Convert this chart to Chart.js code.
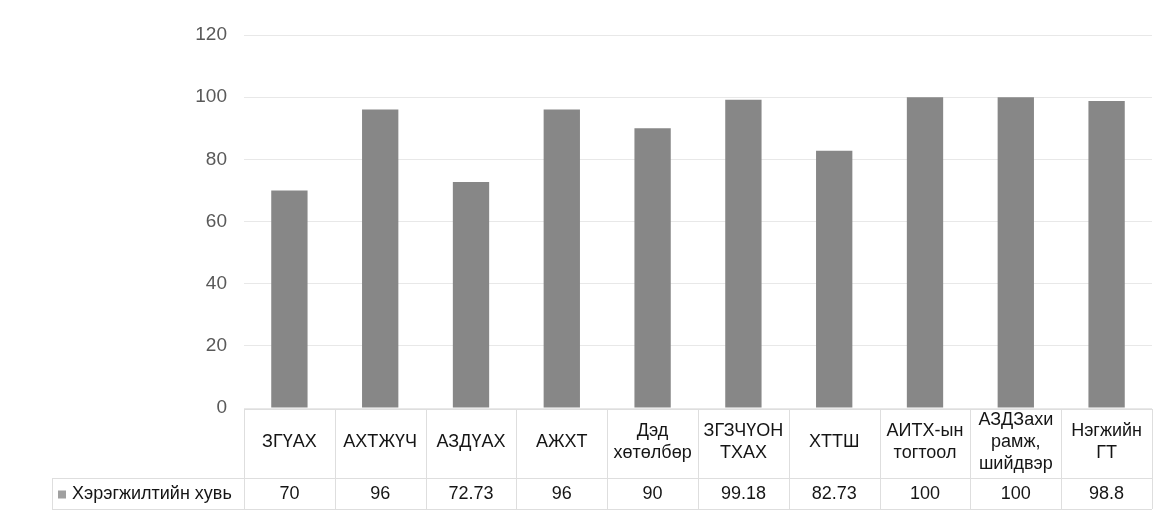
<!DOCTYPE html>
<html>
<head>
<meta charset="utf-8">
<script src="https://cdn.jsdelivr.net/npm/chart.js@4"></script>
<style>
  html, body { margin: 0; padding: 0; background: #fff; }
  #wrap { width: 1165px; height: 518px; }
</style>
</head>
<body>
<div id="wrap"><canvas id="chartCanvas" width="1165" height="518"></canvas></div>
<script>
// Data
const categories = [
  'ЗГҮАХ', 'АХТЖҮЧ', 'АЗДҮАХ', 'АЖХТ',
  ['Дэд', 'хөтөлбөр'], ['ЗГЗЧҮОН', 'ТХАХ'], 'ХТТШ',
  ['АИТХ-ын', 'тогтоол'], ['АЗДЗахи', 'рамж,', 'шийдвэр'], ['Нэгжийн', 'ГТ']
];
const values = [70, 96, 72.73, 96, 90, 99.18, 82.73, 100, 100, 98.8];
const seriesName = 'Хэрэгжилтийн хувь';
const yTicks = [0, 20, 40, 60, 80, 100, 120];

const FONT = '"Liberation Sans", Arial, sans-serif';
const barColor = '#878787';
const lineColor = '#dedede';

// Draws the data table under the plot (grid lines, legend key, values)
const dataTable = {
  id: 'dataTable',
  afterDraw(chart) {
    const { ctx, chartArea, scales } = chart;
    const x = scales.x;
    const top = chartArea.bottom + 1;
    const rowTop = 478;
    const rowBottom = 509;
    const legendLeft = 52;
    const colW = (chartArea.right - chartArea.left) / categories.length;

    ctx.save();
    ctx.strokeStyle = lineColor;
    ctx.lineWidth = 1;
    ctx.beginPath();
    ctx.moveTo(chartArea.left, top + 0.5);
    ctx.lineTo(chartArea.right, top + 0.5);
    ctx.moveTo(legendLeft, rowTop + 0.5);
    ctx.lineTo(chartArea.right, rowTop + 0.5);
    ctx.moveTo(legendLeft, rowBottom + 0.5);
    ctx.lineTo(chartArea.right, rowBottom + 0.5);
    for (let i = 0; i <= categories.length; i++) {
      const px = Math.round(chartArea.left + i * colW) + 0.5;
      ctx.moveTo(px, top);
      ctx.lineTo(px, rowBottom);
    }
    ctx.moveTo(legendLeft + 0.5, rowTop);
    ctx.lineTo(legendLeft + 0.5, rowBottom);
    ctx.stroke();

    const midY = (rowTop + rowBottom) / 2 + 1;
    ctx.fillStyle = '#a0a0a0';
    ctx.fillRect(58, midY - 4, 8, 8);

    ctx.fillStyle = '#151515';
    ctx.font = '18px ' + FONT;
    ctx.textBaseline = 'middle';
    ctx.textAlign = 'left';
    ctx.fillText(seriesName, 72, midY);

    ctx.textAlign = 'center';
    values.forEach((v, i) => {
      ctx.fillText(String(v), x.getPixelForValue(i), midY);
    });
    ctx.restore();
  }
};

const ctx = document.getElementById('chartCanvas').getContext('2d');
new Chart(ctx, {
  type: 'bar',
  data: {
    labels: categories,
    datasets: [{
      label: seriesName,
      data: values,
      backgroundColor: barColor,
      borderWidth: 0,
      barPercentage: 0.4,
      categoryPercentage: 1
    }]
  },
  options: {
    responsive: false,
    animation: false,
    layout: { padding: { top: 35, right: 13, bottom: 0, left: 0 } },
    plugins: {
      legend: { display: false },
      tooltip: { enabled: false }
    },
    scales: {
      x: {
        grid: { display: false },
        border: { display: false },
        ticks: {
          autoSkip: false,
          maxRotation: 0,
          crossAlign: 'center',
          padding: 4,
          color: '#151515',
          font: { family: FONT, size: 18, lineHeight: 1.22 }
        },
        afterFit(scale) { scale.height = 110; }
      },
      y: {
        min: 0,
        max: 120,
        afterBuildTicks(scale) { scale.ticks = yTicks.map(v => ({ value: v })); },
        grid: { color: '#e8e8e8', drawTicks: false },
        border: { display: false },
        ticks: {
          padding: 17,
          color: '#595959',
          font: { family: FONT, size: 19 }
        },
        afterFit(scale) { scale.width = 244; }
      }
    }
  },
  plugins: [dataTable]
});
</script>
</body>
</html>
